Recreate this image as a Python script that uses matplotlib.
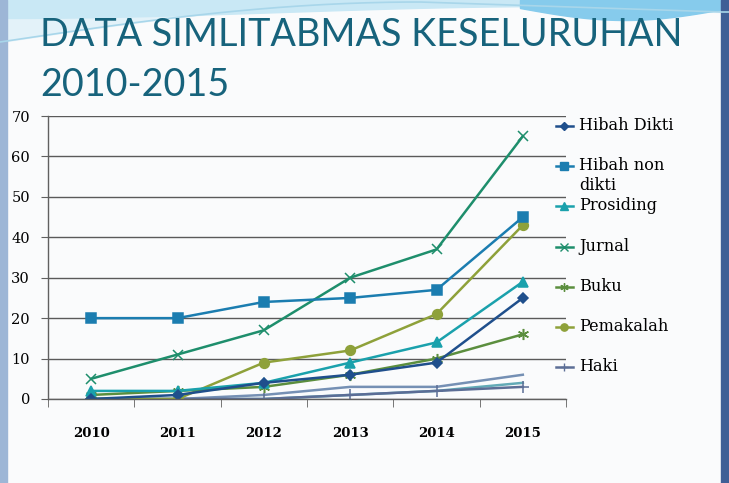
import numpy as np
import matplotlib
matplotlib.use("Agg")
import matplotlib.pyplot as plt
from matplotlib.lines import Line2D

# ---- data ----
years = ["2010", "2011", "2012", "2013", "2014", "2015"]
hibah_dikti = [0, 1, 4, 6, 9, 25]
hibah_non_dikti = [20, 20, 24, 25, 27, 45]
prosiding = [2, 2, 4, 9, 14, 29]
jurnal = [5, 11, 17, 30, 37, 65]
buku = [1, 2, 3, 6, 10, 16]
pemakalah = [0, 0, 9, 12, 21, 43]
haki = [0, 0, 0, 1, 2, 3]
extra_a = [0, 0, 1, 3, 3, 6]
extra_b = [0, 0, 0, 1, 2, 4]

labels = ["Hibah Dikti", "Hibah non\ndikti", "Prosiding", "Jurnal", "Buku",
          "Pemakalah", "Haki"]
yticks = [0, 10, 20, 30, 40, 50, 60, 70]
title = "DATA SIMLITABMAS KESELURUHAN\n2010-2015"

W, H = 729, 483
fig = plt.figure(figsize=(W / 100, H / 100), dpi=100)
fig.patch.set_facecolor("#FAFBFC")

# ---- background decoration ----
bg = fig.add_axes([0, 0, 1, 1], zorder=0)
bg.set_xlim(0, W)
bg.set_ylim(H, 0)
bg.axis("off")
xs = np.linspace(0, W, 200)
top1 = 42 - 40 * np.sin(np.clip(xs / 420, 0, 1) * np.pi / 2) + 10 * np.clip((xs - 420) / 300, 0, 1)
bg.fill_between(xs, 0, top1, color="#E3F2F9", zorder=0)
top2 = 12 + 6 * np.cos(xs / 180)
bg.fill_between(xs, 0, top2, color="#C9E8F5", zorder=0)
rx = np.linspace(520, 729, 80)
bg.fill_between(rx, 0, 8 + 12 * np.sin((rx - 520) / 209 * np.pi), color="#86CBEC", zorder=0)
bg.plot(xs, top1, color="#A8D6EA", lw=1.2)
bg.fill_between([0, 7], 0, H, color="#9DB6D6", zorder=0)
bg.fill_between([721, 729], 0, H, color="#3F5F96", zorder=0)

# ---- title ----
fig.text(40 / W, 1 - 17 / H, title, ha="left", va="top", color="#17637C",
         fontsize=27.2, family="Lato", linespacing=1.5)

# ---- chart ----
ax = fig.add_axes([48 / W, 1 - 399 / H, 518 / W, 283 / H], zorder=1)
ax.patch.set_alpha(0)
x = np.arange(len(years))

series = [
    (hibah_dikti, "#1F4F8C", "D", 5),
    (hibah_non_dikti, "#1B7DB0", "s", 7),
    (prosiding, "#1AA1AC", "^", 7),
    (jurnal, "#1E8E6C", "x", 7),
    (buku, "#5B8E3E", (6, 2, 0), 8),
    (pemakalah, "#8EA13A", "o", 7),
    (haki, "#5C6E96", "+", 8),
    (extra_a, "#7590B4", None, 0),
    (extra_b, "#62AAB6", None, 0),
]
for vals, c, m, ms in series[::-1]:
    ax.plot(x, vals, color=c, lw=1.8, marker=m, markersize=ms,
            markeredgecolor=c, markerfacecolor=c, markeredgewidth=1.1)

ax.set_xlim(-0.5, len(years) - 0.5)
ax.set_ylim(0, 70)
ax.set_yticks(yticks)
ax.set_yticklabels([str(t) for t in yticks], family="DejaVu Serif", fontsize=10.5)
ax.set_xticks(x)
ax.set_xticklabels(years, family="DejaVu Serif", fontsize=9.5, fontweight="bold")
ax.set_xticks(np.arange(-0.5, len(years)), minor=True)
ax.tick_params(axis="x", which="major", length=0, pad=20)
ax.tick_params(axis="x", which="minor", length=6, direction="out", color="#606060")
ax.tick_params(axis="y", length=5, direction="out", color="#606060", pad=8)
ax.grid(axis="y", color="#5A5A5A", lw=1.0)
for s in ["top", "right"]:
    ax.spines[s].set_visible(False)
for s in ["left", "bottom"]:
    ax.spines[s].set_color("#606060")
    ax.spines[s].set_linewidth(1.0)
ax.set_axisbelow(True)

# ---- legend (manual, fixed spacing) ----
lax = fig.add_axes([0, 0, 1, 1], zorder=2)
lax.set_xlim(0, W)
lax.set_ylim(H, 0)
lax.axis("off")
for i, lab in enumerate(labels):
    vals, c, m, ms = series[i]
    y = 126 + 40.2 * i
    lax.add_line(Line2D([556, 573], [y, y], color=c, lw=1.8))
    lax.add_line(Line2D([564.5], [y], color=c, marker=m, markersize=ms * 0.75,
                        markeredgecolor=c, markerfacecolor=c))
    lax.text(579, y - 9, lab, ha="left", va="top", fontsize=11.6,
             family="DejaVu Serif", color="black", linespacing=1.2)

fig.savefig("out.png", dpi=100, facecolor=fig.get_facecolor())
